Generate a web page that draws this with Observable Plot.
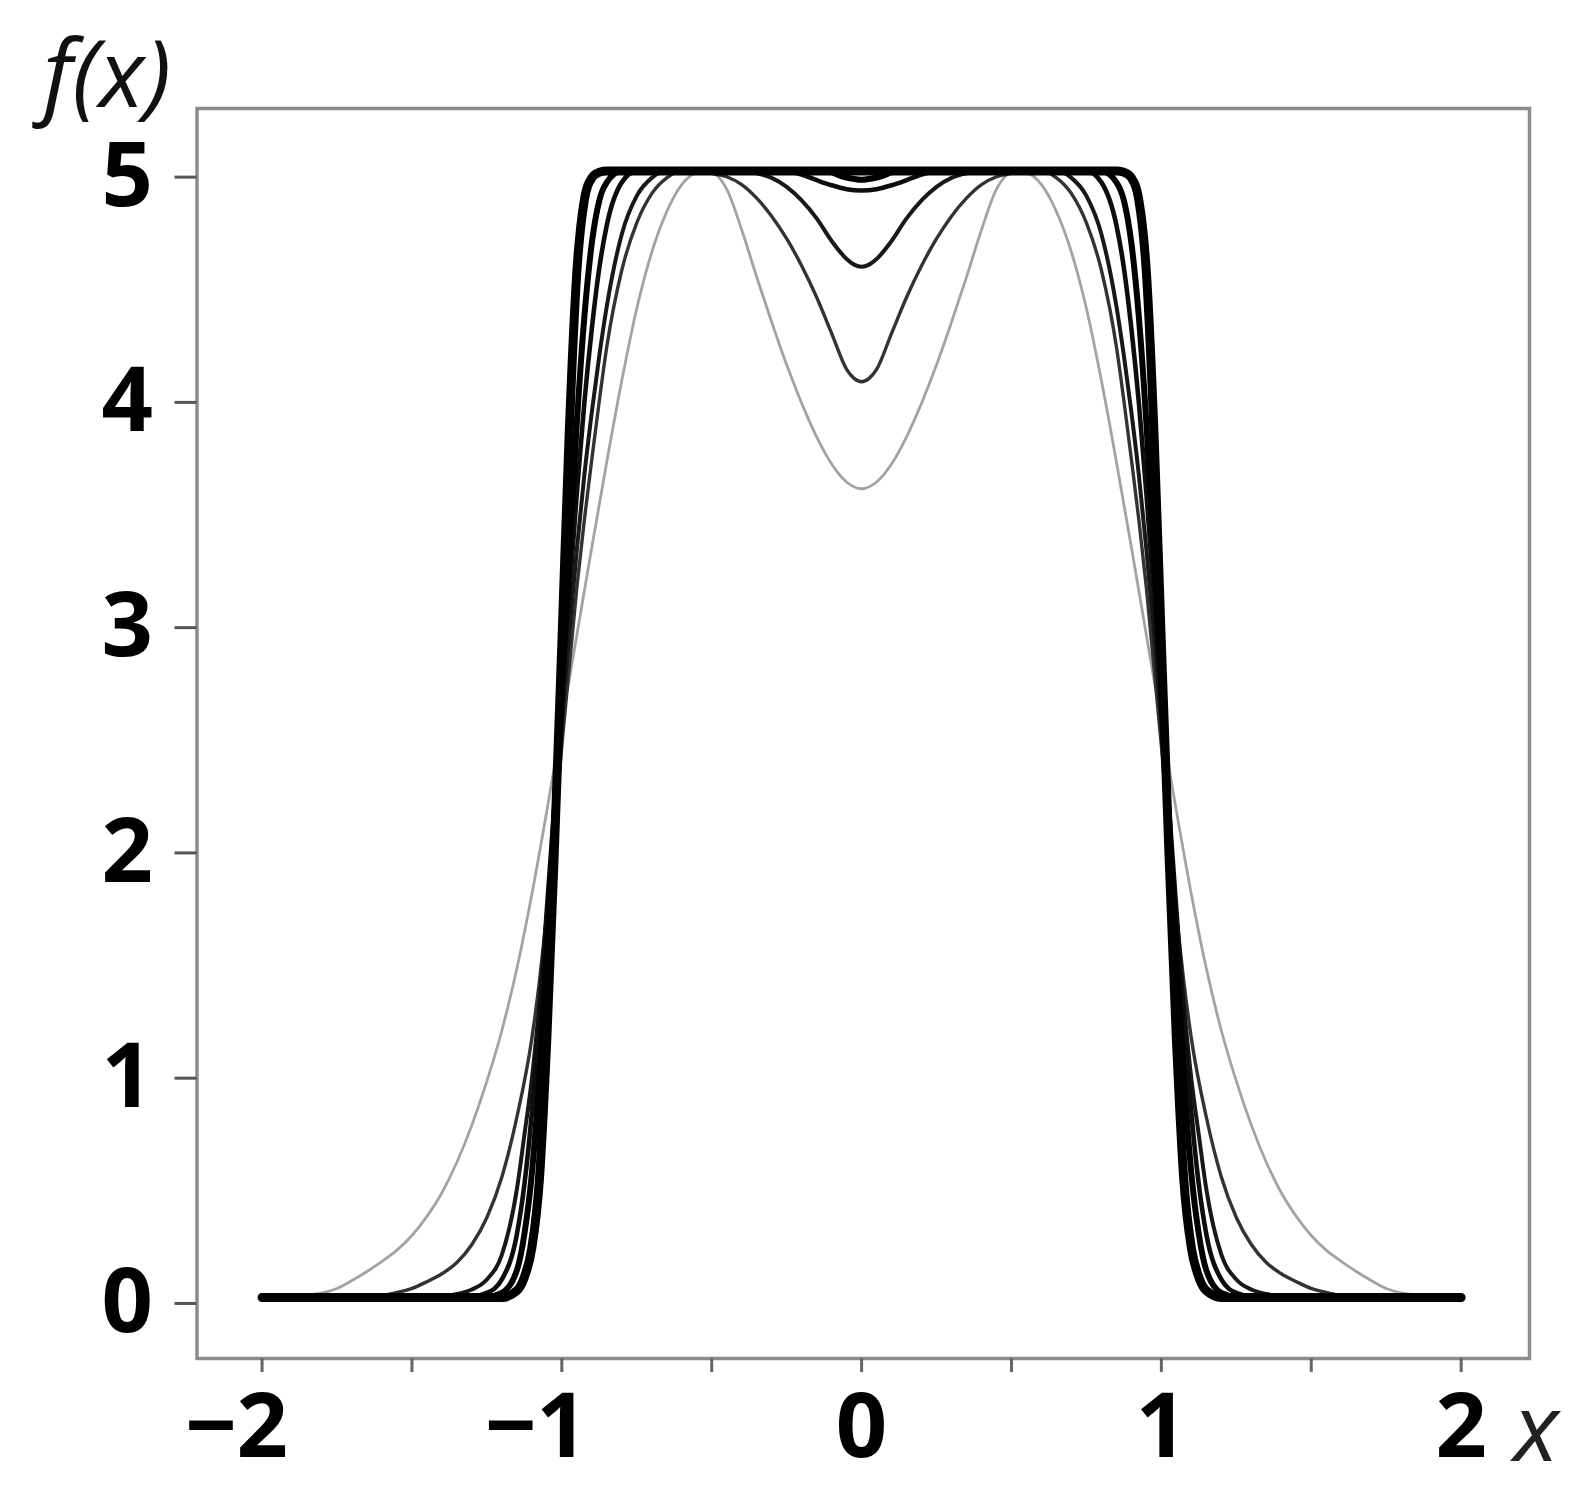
<!DOCTYPE html>
<html>
<head>
<meta charset="utf-8">
<script src="https://cdn.jsdelivr.net/npm/d3@7"></script>
<script src="https://cdn.jsdelivr.net/npm/@observablehq/plot@0.6"></script>
<style>
  html, body { margin: 0; padding: 0; background: #fff; }
  #chart svg { display: block; }
  .fx g[aria-label="x-axis tick label"] text,
  .fx g[aria-label="y-axis tick label"] text { font-weight: bold; }
</style>
</head>
<body>
<div id="chart"></div>
<script>
// ---- tick values ----
const xTicks = [-2, -1.5, -1, -0.5, 0, 0.5, 1, 1.5, 2];
const xLabelsNeg = [-2, -1];
const xLabelsPos = [0, 1, 2];
const yTicks = [0, 1, 2, 3, 4, 5];

// ---- curve A (thin, light grey) ----
const xA = [-2,-1.9,-1.8,-1.75,-1.7,-1.65,-1.6,-1.55,-1.5,-1.45,-1.4,-1.35,-1.3,-1.25,-1.2,-1.15,-1.1,-1.05,-1,-0.95,-0.9,-0.85,-0.8,-0.75,-0.7,-0.65,-0.6,-0.55,-0.5,-0.45,-0.4,-0.35,-0.3,-0.25,-0.2,-0.15,-0.1,-0.05,0,
            0.05,0.1,0.15,0.2,0.25,0.3,0.35,0.4,0.45,0.5,0.55,0.6,0.65,0.7,0.75,0.8,0.85,0.9,0.95,1,1.05,1.1,1.15,1.2,1.25,1.3,1.35,1.4,1.45,1.5,1.55,1.6,1.65,1.7,1.75,1.8,1.9,2];
const yA = [0,0.004,0.02,0.04,0.075,0.115,0.16,0.21,0.275,0.36,0.465,0.6,0.765,0.96,1.185,1.46,1.79,2.16,2.55,2.94,3.33,3.71,4.07,4.39,4.64,4.82,4.94,4.99,4.99,4.92,4.74,4.53,4.33,4.14,3.97,3.82,3.7,3.62,3.59,
            3.62,3.7,3.82,3.97,4.14,4.33,4.53,4.74,4.92,4.99,4.99,4.94,4.82,4.64,4.39,4.07,3.71,3.33,2.94,2.55,2.16,1.79,1.46,1.185,0.96,0.765,0.6,0.465,0.36,0.275,0.21,0.16,0.115,0.075,0.04,0.02,0.004,0];

// ---- curve B ----
const xB = [-2,-1.6,-1.55,-1.5,-1.45,-1.4,-1.35,-1.3,-1.25,-1.2,-1.15,-1.1,-1.075,-1.05,-1.025,-1,-0.975,-0.95,-0.925,-0.9,-0.875,-0.85,-0.8,-0.75,-0.7,-0.65,-0.6,-0.55,-0.5,-0.45,-0.4,-0.35,-0.3,-0.25,-0.2,-0.15,-0.1,-0.05,-0.025,0,
            0.025,0.05,0.1,0.15,0.2,0.25,0.3,0.35,0.4,0.45,0.5,0.55,0.6,0.65,0.7,0.75,0.8,0.85,0.875,0.9,0.925,0.95,0.975,1,1.025,1.05,1.075,1.1,1.15,1.2,1.25,1.3,1.35,1.4,1.45,1.5,1.55,1.6,2];
const yB = [0,0.01,0.022,0.04,0.07,0.105,0.155,0.235,0.355,0.535,0.8,1.15,1.4,1.7,2.05,2.45,2.8,3.15,3.45,3.72,3.98,4.22,4.56,4.77,4.9,4.97,5,5,4.99,4.975,4.94,4.88,4.8,4.7,4.58,4.44,4.28,4.12,4.08,4.065,
            4.08,4.12,4.28,4.44,4.58,4.7,4.8,4.88,4.94,4.975,4.99,5,5,4.97,4.9,4.77,4.56,4.22,3.98,3.72,3.45,3.15,2.8,2.45,2.05,1.7,1.4,1.15,0.8,0.535,0.355,0.235,0.155,0.105,0.07,0.04,0.022,0.01,0];

// ---- curve C ----
const xC = [-2,-1.4,-1.35,-1.3,-1.25,-1.2,-1.15,-1.125,-1.1,-1.075,-1.05,-1.025,-1,-0.975,-0.95,-0.925,-0.9,-0.875,-0.85,-0.8,-0.75,-0.7,-0.65,-0.4,-0.35,-0.3,-0.25,-0.2,-0.15,-0.1,-0.05,-0.025,0,
            0.025,0.05,0.1,0.15,0.2,0.25,0.3,0.35,0.4,0.65,0.7,0.75,0.8,0.85,0.875,0.9,0.925,0.95,0.975,1,1.025,1.05,1.075,1.1,1.125,1.15,1.2,1.25,1.3,1.35,1.4,2];
const yC = [0,0.005,0.015,0.035,0.08,0.19,0.48,0.72,0.97,1.3,1.7,2.1,2.55,2.95,3.32,3.65,3.93,4.18,4.4,4.72,4.89,4.97,5,5,4.99,4.97,4.93,4.87,4.79,4.69,4.61,4.585,4.575,
            4.585,4.61,4.69,4.79,4.87,4.93,4.97,4.99,5,5,4.97,4.89,4.72,4.4,4.18,3.93,3.65,3.32,2.95,2.55,2.1,1.7,1.3,0.97,0.72,0.48,0.19,0.08,0.035,0.015,0.005,0];

// ---- curve D ----
const xD = [-2,-1.3,-1.25,-1.2,-1.15,-1.125,-1.1,-1.075,-1.05,-1.025,-1,-0.975,-0.95,-0.925,-0.9,-0.875,-0.85,-0.8,-0.75,-0.25,-0.2,-0.15,-0.1,-0.05,0,
            0.05,0.1,0.15,0.2,0.25,0.75,0.8,0.85,0.875,0.9,0.925,0.95,0.975,1,1.025,1.05,1.075,1.1,1.125,1.15,1.2,1.25,1.3,2];
const yD = [0,0.005,0.02,0.08,0.28,0.5,0.82,1.25,1.72,2.18,2.65,3.12,3.57,3.97,4.3,4.57,4.76,4.95,5,5,4.985,4.96,4.937,4.92,4.914,
            4.92,4.937,4.96,4.985,5,5,4.95,4.76,4.57,4.3,3.97,3.57,3.12,2.65,2.18,1.72,1.25,0.82,0.5,0.28,0.08,0.02,0.005,0];

// ---- curve E ----
const xE = [-2,-1.25,-1.2,-1.15,-1.125,-1.1,-1.075,-1.05,-1.025,-1,-0.975,-0.95,-0.925,-0.9,-0.875,-0.85,-0.8,-0.12,-0.06,0,
            0.06,0.12,0.8,0.85,0.875,0.9,0.925,0.95,0.975,1,1.025,1.05,1.075,1.1,1.125,1.15,1.2,1.25,2];
const yE = [0,0.003,0.02,0.12,0.28,0.55,0.98,1.55,2.12,2.7,3.3,3.88,4.35,4.68,4.87,4.95,5,5,4.975,4.962,
            4.975,5,5,4.95,4.87,4.68,4.35,3.88,3.3,2.7,2.12,1.55,0.98,0.55,0.28,0.12,0.02,0.003,0];

// ---- curve F (thickest, flat top) ----
const xF = [-2,-1.2,-1.15,-1.125,-1.1,-1.075,-1.05,-1.025,-1,-0.975,-0.95,-0.925,-0.9,-0.875,-0.85,0,
            0.85,0.875,0.9,0.925,0.95,0.975,1,1.025,1.05,1.075,1.1,1.125,1.15,1.2,2];
const yF = [0,0,0.03,0.09,0.22,0.52,1.15,1.98,2.9,3.85,4.55,4.87,4.97,4.995,5,5,
            5,4.995,4.97,4.87,4.55,3.85,2.9,1.98,1.15,0.52,0.22,0.09,0.03,0,0];

const toRows = (xs, ys) => xs.map((x, i) => ({x, y: ys[i]}));

const curveStyles = [
  {rows: toRows(xA, yA), stroke: "#a3a3a3", width: 2.8},
  {rows: toRows(xB, yB), stroke: "#333333", width: 3.4},
  {rows: toRows(xC, yC), stroke: "#181818", width: 4},
  {rows: toRows(xD, yD), stroke: "#0d0d0d", width: 4.6},
  {rows: toRows(xE, yE), stroke: "#000000", width: 6},
  {rows: toRows(xF, yF), stroke: "#000000", width: 9}
];

const fmt = d => (d < 0 ? "\u2212" : "") + Math.abs(d);
const FONT = "'Open Sans', 'Noto Sans', sans-serif";

const chart = Plot.plot({
  width: 1595,
  height: 1511,
  marginLeft: 196.5,
  marginRight: 66,
  marginTop: 108,
  marginBottom: 153,
  className: "fx",
  style: {fontFamily: FONT, background: "#fff", color: "#000", overflow: "visible"},
  x: {domain: [-2.217, 2.228]},
  y: {domain: [-0.271, 5.278]},
  marks: [
    Plot.frame({stroke: "#8c8c8c", strokeWidth: 3.5}),
    Plot.axisX({ticks: xTicks, tickSize: 14, tickFormat: () => "", stroke: "#666", strokeWidth: 3, label: null}),
    Plot.axisX({ticks: xLabelsPos, tickSize: 0, tickPadding: 35, tickFormat: fmt, fontSize: 90, fontWeight: "bold", fill: "#000", label: null}),
    Plot.axisX({ticks: xLabelsNeg, tickSize: 0, tickPadding: 35, tickFormat: fmt, textAnchor: "end", dx: 26, fontSize: 90, fontWeight: "bold", fill: "#000", label: null}),
    Plot.axisY({ticks: yTicks, tickSize: 22, tickPadding: 22, stroke: "#555", strokeWidth: 3, fontSize: 90, fontWeight: "bold", fill: "#000", dy: 6, label: null, tickFormat: fmt}),
    ...curveStyles.map(s => Plot.line(s.rows, {
      x: "x", y: "y", stroke: s.stroke, strokeWidth: s.width,
      curve: "monotone-x", strokeLinecap: "round", strokeLinejoin: "round"
    })),
    Plot.text(["f(x)"], {frameAnchor: "top-left", textAnchor: "start", lineAnchor: "bottom",
      dx: -154, dy: -2, fontSize: 94, fontStyle: "italic", fill: "#111"}),
    Plot.text(["x"], {frameAnchor: "bottom-right", textAnchor: "start", lineAnchor: "bottom",
      dx: -16, dy: 102, fontSize: 94, fontStyle: "italic", fill: "#222"})
  ]
});

document.getElementById("chart").appendChild(chart);
</script>
</body>
</html>
